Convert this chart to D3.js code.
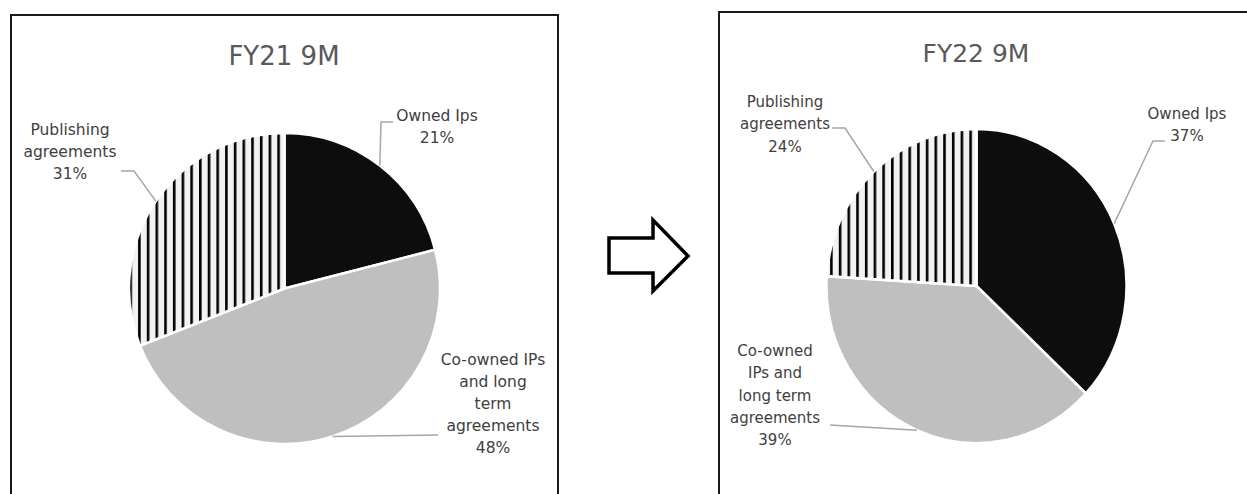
<!DOCTYPE html>
<html>
<head>
<meta charset="utf-8">
<script src="https://cdn.jsdelivr.net/npm/d3@7"></script>
<style>
  html, body { margin: 0; padding: 0; background: #ffffff; }
  svg { display: block; }
</style>
</head>
<body>
<svg id="chart" width="1247" height="494"></svg>
<script>
// ---------------- DATA ----------------
const categories = ["Owned Ips", "Co-owned IPs and long term agreements", "Publishing agreements"];
const fy21Values = [21, 48, 31];
const fy22Values = [37, 39, 24];
const titles = ["FY21 9M", "FY22 9M"];
// wrapped label lines (category name part) per chart
const fy21LabelLines = [["Owned Ips"], ["Co-owned IPs", "and long", "term", "agreements"], ["Publishing", "agreements"]];
const fy22LabelLines = [["Owned Ips"], ["Co-owned", "IPs and", "long term", "agreements"], ["Publishing", "agreements"]];

// ---------------- LAYOUT ----------------
const svg = d3.select("#chart");
const fills = ["#0d0d0d", "#bfbfbf", "url(#stripes)"];
const FONT = "'DejaVu Sans', Verdana, sans-serif";

const defs = svg.append("defs");
const pat = defs.append("pattern")
  .attr("id", "stripes")
  .attr("patternUnits", "userSpaceOnUse")
  .attr("x", -7.2).attr("y", 0)
  .attr("width", 8.7).attr("height", 10);
pat.append("rect").attr("width", 8.7).attr("height", 10).attr("fill", "#f2f2f2");
pat.append("rect").attr("x", 0).attr("width", 2.6).attr("height", 10).attr("fill", "#000000");

const panels = [
  {
    box: { x: 11, y: 15, w: 547, h: 520 },
    title: titles[0], titleX: 284, titleY: 65, titleSize: 26,
    values: fy21Values, lines: fy21LabelLines,
    cx: 284.5, cy: 288.5, r: 155.5, sy: 1,
    fontSize: 15.5, lh: 22,
    labels: [
      { cx: 437, y0: 121, start: [393, 122], elbow: [381, 122] },
      { cx: 493, y0: 365, start: [438, 435], elbow: null },
      { cx: 70,  y0: 135, start: [121, 171], elbow: [134, 171] }
    ]
  },
  {
    box: { x: 719, y: 12, w: 560, h: 520 },
    title: titles[1], titleX: 976, titleY: 62, titleSize: 25,
    values: fy22Values, lines: fy22LabelLines,
    cx: 976.5, cy: 286, r: 150, sy: 1.047,
    fontSize: 15, lh: 22.3,
    labels: [
      { cx: 1187, y0: 119, start: [1165, 141], elbow: [1153, 141] },
      { cx: 775,  y0: 356, start: [830, 425], elbow: null },
      { cx: 785,  y0: 107, start: [832, 128], elbow: [845, 128] }
    ]
  }
];

const pie = d3.pie().sort(null).value(d => d);

panels.forEach(p => {
  // panel frame
  svg.append("rect")
    .attr("x", p.box.x).attr("y", p.box.y)
    .attr("width", p.box.w).attr("height", p.box.h)
    .attr("fill", "none").attr("stroke", "#1a1a1a").attr("stroke-width", 2);

  // title
  svg.append("text")
    .attr("x", p.titleX).attr("y", p.titleY)
    .attr("text-anchor", "middle")
    .attr("font-family", FONT).attr("font-size", p.titleSize)
    .attr("fill", "#595959")
    .text(p.title);

  const arcs = pie(p.values);
  const arc = d3.arc().innerRadius(0).outerRadius(p.r);

  const g = svg.append("g")
    .attr("transform", `translate(${p.cx},${p.cy}) scale(1,${p.sy})`);
  g.selectAll("path.slice")
    .data(arcs)
    .join("path")
    .attr("class", "slice")
    .attr("d", arc)
    .attr("fill", (d, i) => fills[i])
    .attr("stroke", "#ffffff")
    .attr("stroke-width", 2.5)
    .attr("stroke-linejoin", "round");

  // labels and leader lines
  arcs.forEach((a, i) => {
    const L = p.labels[i];
    const mid = (a.startAngle + a.endAngle) / 2;
    const end = [p.cx + p.r * Math.sin(mid), p.cy - p.r * p.sy * Math.cos(mid)];
    const pts = [L.start];
    if (L.elbow) pts.push(L.elbow);
    pts.push(end);
    svg.append("path")
      .attr("d", d3.line()(pts))
      .attr("fill", "none")
      .attr("stroke", "#a6a6a6")
      .attr("stroke-width", 1.5);

    const lines = p.lines[i].concat([p.values[i] + "%"]);
    const t = svg.append("text")
      .attr("text-anchor", "middle")
      .attr("font-family", FONT).attr("font-size", p.fontSize)
      .attr("fill", "#404040");
    lines.forEach((ln, k) => {
      t.append("tspan").attr("x", L.cx).attr("y", L.y0 + k * p.lh).text(ln);
    });
  });
});

// arrow between the panels
const arrowPts = [[609, 238], [653, 238], [653, 220], [688, 256], [653, 291], [653, 273], [609, 273]];
svg.append("polygon")
  .attr("points", arrowPts.map(d => d.join(",")).join(" "))
  .attr("fill", "#ffffff")
  .attr("stroke", "#000000")
  .attr("stroke-width", 3.5)
  .attr("stroke-linejoin", "miter");
</script>
</body>
</html>
